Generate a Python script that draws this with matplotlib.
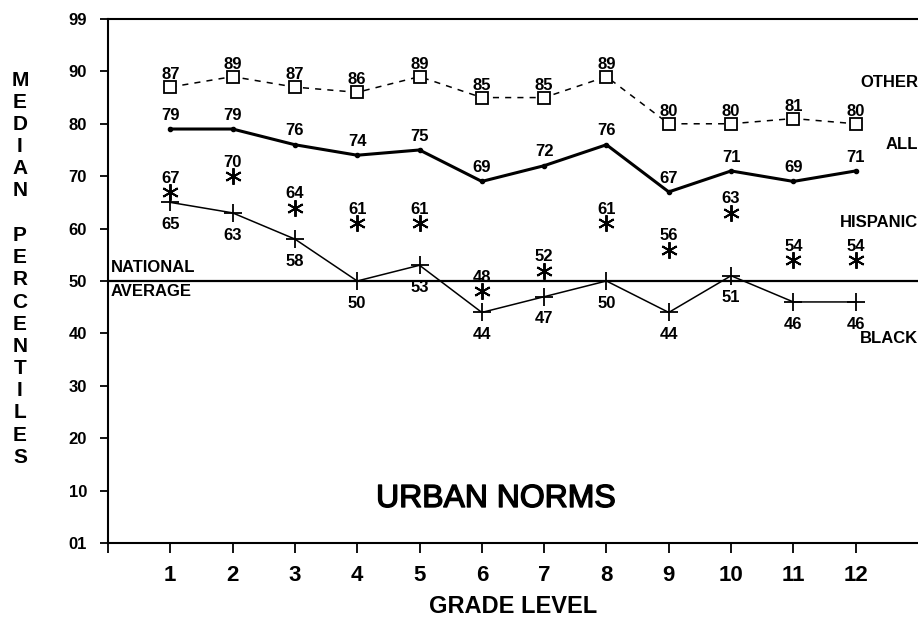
import numpy as np
import matplotlib.pyplot as plt
import matplotlib.patheffects as pe

plt.rcParams['font.family'] = ['Liberation Sans', 'DejaVu Sans']

# Median percentiles by grade level (urban norms)
grades = [1, 2, 3, 4, 5, 6, 7, 8, 9, 10, 11, 12]
other = [87, 89, 87, 86, 89, 85, 85, 89, 80, 80, 81, 80]
all_students = [79, 79, 76, 74, 75, 69, 72, 76, 67, 71, 69, 71]
hispanic = [67, 70, 64, 61, 61, 48, 52, 61, 56, 63, 54, 54]
black = [65, 63, 58, 50, 53, 44, 47, 50, 44, 51, 46, 46]
national_average = 50

ytick_vals = [0, 10, 20, 30, 40, 50, 60, 70, 80, 90, 100]
ytick_labels = ['01', '10', '20', '30', '40', '50', '60', '70', '80', '90', '99']

fig = plt.figure(figsize=(9.18, 6.22), dpi=100)
ax = fig.add_axes([0.1176, 0.127, 0.8824, 0.8425])

ax.axhline(national_average, color='black', lw=1.6, zorder=1)

ax.plot(grades, other, color='black', lw=1.1, linestyle=(0, (4, 4)),
        marker='s', ms=9, mfc='white', mec='black', mew=1.3, zorder=3)
ax.plot(grades, all_students, color='black', lw=2.2, marker='o', ms=3, zorder=3)
ax.plot(grades, hispanic, linestyle='none', marker=(6, 2, 0), ms=12,
        mec='black', mew=1.4, zorder=3)
ax.plot(grades, black, color='black', lw=1.1, marker='+', ms=13, mew=1.3, zorder=3)

lab = dict(ha='center', va='center', fontsize=12, fontweight='bold',
           textcoords='offset points', zorder=4)
for g, v in zip(grades, other):
    ax.annotate(str(v), (g, v), xytext=(0, 9), **lab)
for g, v in zip(grades, all_students):
    ax.annotate(str(v), (g, v), xytext=(0, 10), **lab)
for g, v in zip(grades, hispanic):
    ax.annotate(str(v), (g, v), xytext=(0, 10), **lab)
for g, v in zip(grades, black):
    ax.annotate(str(v), (g, v), xytext=(0, -16), **lab)

# series names at right edge
names = dict(ha='right', va='center', fontsize=12, fontweight='bold', clip_on=False)
ax.text(13, 87.8, 'OTHER', **names)
ax.text(13, 76.0, 'ALL', **names)
ax.text(13, 61.1, 'HISPANIC', **names)
ax.text(13, 39.1, 'BLACK', **names)

ax.text(0.04, 52.5, 'NATIONAL', ha='left', va='center', fontsize=12, fontweight='bold')
ax.text(0.04, 47.9, 'AVERAGE', ha='left', va='center', fontsize=12, fontweight='bold')

ax.text(6.23, 8.4, 'URBAN NORMS', ha='center', va='center', fontsize=23,
        path_effects=[pe.withStroke(linewidth=1.0, foreground='black')])

ax.set_xlim(0, 13)
ax.set_ylim(0, 100)
ax.set_xticks([0] + grades)
ax.set_xticklabels([''] + [str(g) for g in grades], fontsize=16, fontweight='bold')
ax.set_yticks(ytick_vals)
ax.set_yticklabels(ytick_labels, fontsize=12, fontweight='bold')
ax.tick_params(axis='x', length=7, width=1.3, pad=9)
ax.tick_params(axis='y', length=6, width=1.3, pad=9)
ax.set_xlabel('GRADE LEVEL', fontsize=17, fontweight='bold', labelpad=6)

for s in ['left', 'bottom', 'top']:
    ax.spines[s].set_linewidth(1.5)
ax.spines['right'].set_visible(False)

# stacked vertical y label
ylabel = 'MEDIAN PERCENTILES'
for i, ch in enumerate(ylabel):
    if ch == ' ':
        continue
    y = 80 + i * 22.2
    fig.text(20 / 918, 1 - y / 622, ch, ha='center', va='center',
             fontsize=15, fontweight='bold')

plt.savefig('out.png', dpi=100)
